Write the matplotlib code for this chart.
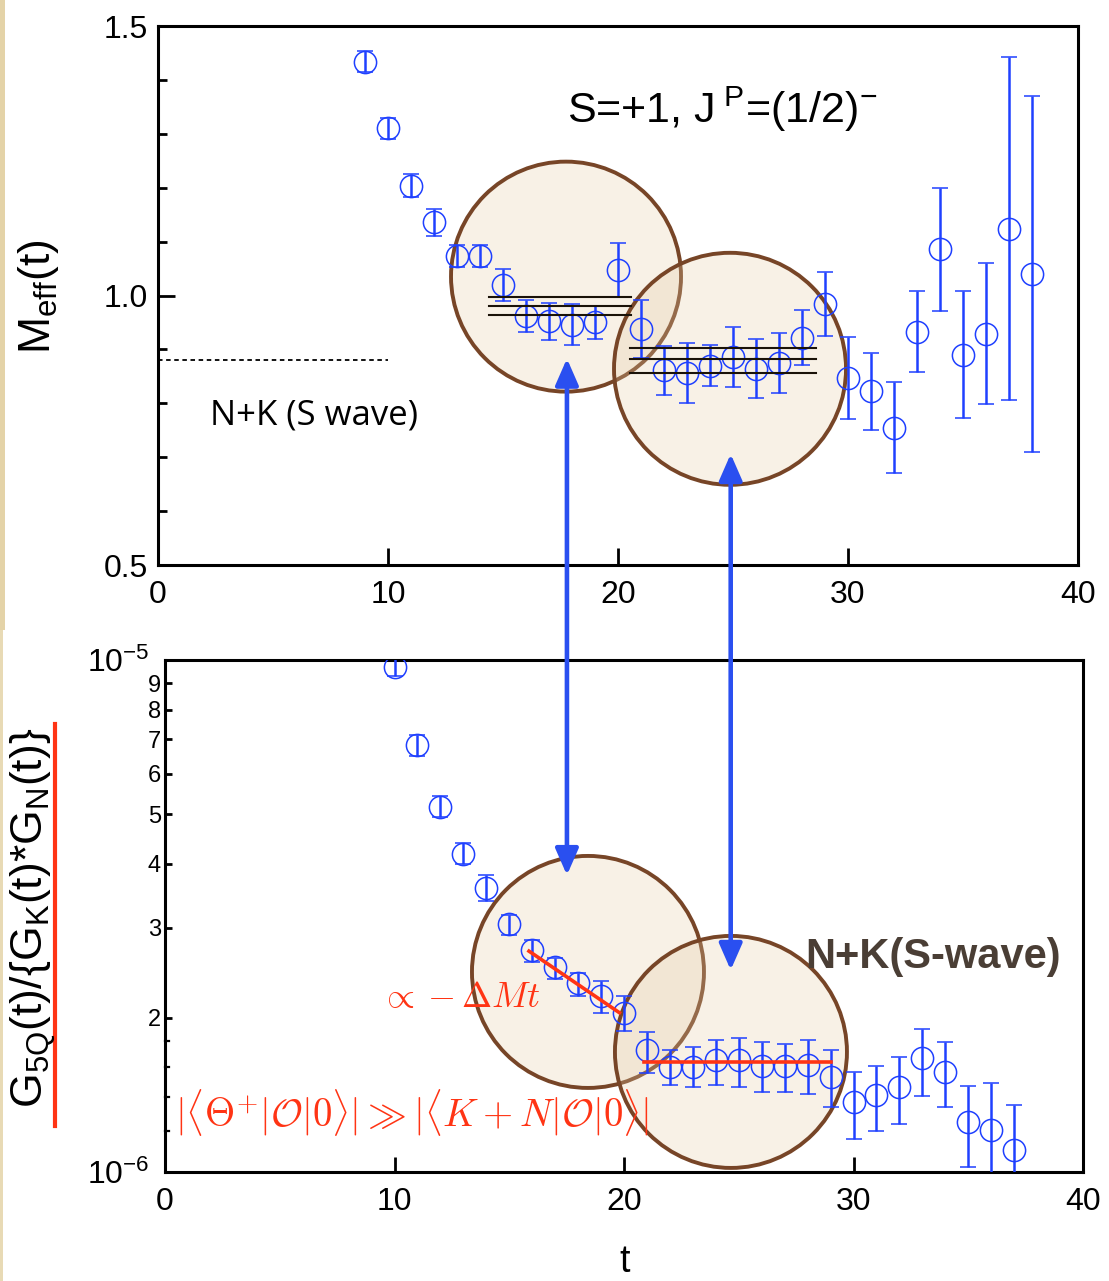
import numpy as np
import matplotlib.pyplot as plt
from matplotlib import transforms
from matplotlib.patches import Circle, ConnectionPatch, Rectangle
from matplotlib.lines import Line2D

plt.rcParams['font.family'] = ['Liberation Sans', 'DejaVu Sans']
plt.rcParams['mathtext.fontset'] = 'custom'
plt.rcParams['mathtext.rm'] = 'Liberation Sans'
plt.rcParams['mathtext.it'] = 'Liberation Sans:italic'
plt.rcParams['mathtext.bf'] = 'Liberation Sans:bold'

# effective mass M_eff(t)
t_meff = np.arange(9, 39)
meff = [1.434, 1.310, 1.204, 1.136, 1.073, 1.073, 1.020, 0.962, 0.952, 0.946,
        0.950, 1.047, 0.938, 0.861, 0.856, 0.870, 0.886, 0.864, 0.875, 0.922,
        0.984, 0.847, 0.822, 0.755, 0.933, 1.086, 0.890, 0.929, 1.124, 1.040]
meff_err = [0.019, 0.020, 0.022, 0.025, 0.021, 0.021, 0.030, 0.030, 0.034, 0.038,
            0.030, 0.050, 0.054, 0.046, 0.055, 0.038, 0.055, 0.055, 0.055, 0.051,
            0.059, 0.076, 0.072, 0.085, 0.075, 0.114, 0.118, 0.131, 0.318, 0.330]

# plateau fits (central value and band edges)
fit1_t = [14.4, 20.55]
fit1_vals = [0.997, 0.980, 0.963]
fit2_t = [20.5, 28.6]
fit2_vals = [0.903, 0.882, 0.857]

# N+K threshold
nk_t = [0, 10]
nk_mass = 0.881

# ratio G_5Q / (G_K * G_N), in units of 1e-6
t_ratio = np.arange(10, 38)
ratio = [9.70, 6.82, 5.17, 4.18, 3.58, 3.05, 2.71, 2.51, 2.34, 2.21,
         2.04, 1.73, 1.606, 1.606, 1.655, 1.655, 1.61, 1.61, 1.62, 1.535,
         1.372, 1.413, 1.467, 1.667, 1.57, 1.254, 1.208, 1.104]
ratio_hi = [10.05, 7.15, 5.43, 4.385, 3.80, 3.176, 2.84, 2.623, 2.45, 2.358,
            2.207, 1.875, 1.73, 1.757, 1.81, 1.83, 1.797, 1.778, 1.81, 1.73,
            1.565, 1.61, 1.675, 1.90, 1.797, 1.474, 1.49, 1.352]
ratio_lo = [9.30, 6.49, 4.93, 3.996, 3.388, 2.90, 2.575, 2.378, 2.207, 2.04,
            1.888, 1.558, 1.479, 1.468, 1.479, 1.468, 1.435, 1.435, 1.42, 1.342,
            1.158, 1.204, 1.241, 1.409, 1.342, 1.021, 0.97, 0.97]

# red guide lines on the ratio
slope_t = [15.86, 19.8]
slope_v = [2.70, 2.047]
flat_t = [20.87, 29.0]
flat_v = 1.643

blue = '#1f40ff'
arrow_blue = '#2a4ff0'
red = '#ff3414'
brown = '#774527'
fill = (230 / 255, 205 / 255, 166 / 255, 0.28)

W, H = 1109, 1281
fig = plt.figure(figsize=(W / 100, H / 100), dpi=100)

# parchment edge on the left
fig.add_artist(Rectangle((0, 1 - 630 / H), 5 / W, 630 / H, transform=fig.transFigure,
                         facecolor='#e4d3a8', edgecolor='none', zorder=-5))
fig.add_artist(Rectangle((0, 0), 3 / W, 1 - 630 / H, transform=fig.transFigure,
                         facecolor='#e8dab5', edgecolor='none', zorder=-5))

ax1 = fig.add_axes([158 / W, 1 - 565 / H, 920 / W, 539 / H])
ax2 = fig.add_axes([165 / W, 1 - 1172 / H, 918 / W, 512 / H])


def highlight(ax, t0, v0, r_px):
    tr = transforms.Affine2D().scale(r_px) + transforms.ScaledTranslation(t0, v0, ax.transData)
    ax.add_patch(Circle((0, 0), 1.0, transform=tr, facecolor=fill, edgecolor=brown,
                        lw=2.8, clip_on=False, zorder=1))


ebar = dict(fmt='o', mfc='none', mec=blue, ms=16, mew=1.1, ecolor=blue,
            elinewidth=1.8, capsize=5.5, capthick=1.8, zorder=3)

# --- upper panel: effective mass ---
highlight(ax1, 17.74, 1.035, 115)
highlight(ax1, 24.87, 0.864, 116)
ax1.errorbar(t_meff, meff, yerr=meff_err, **ebar)
for v in fit1_vals:
    ax1.plot(fit1_t, [v, v], color='#1a1208', lw=1.5, zorder=4)
for v in fit2_vals:
    ax1.plot(fit2_t, [v, v], color='#1a1208', lw=1.5, zorder=4)
ax1.plot(nk_t, [nk_mass, nk_mass], color='black', lw=1.3, ls=(0, (2.5, 2)), zorder=2)

ax1.text(2.26, 0.760, 'N+K (S wave)', fontsize=25, family=['Open Sans', 'DejaVu Sans'],
         ha='left', va='baseline')
ax1.text(17.8, 1.32, r'S=+1, J$^{\ \mathregular{P}}$=(1/2)$^{\mathregular{-}}$',
         fontsize=31, ha='left', va='baseline')

ax1.set_xlim(0, 40)
ax1.set_ylim(0.5, 1.5)
ax1.set_xticks([0, 10, 20, 30, 40])
ax1.set_yticks([0.5, 1.0, 1.5])
ax1.set_yticklabels(['0.5', '1.0', '1.5'])
ax1.set_yticks(np.arange(0.6, 1.5, 0.1), minor=True)
ax1.tick_params(which='both', direction='in', width=2.0, labelsize=23)
ax1.tick_params(which='major', length=12)
ax1.tick_params(which='minor', length=6.5)
ax1.tick_params(axis='x', pad=11)
ax1.tick_params(axis='y', pad=7)
for s in ax1.spines.values():
    s.set_linewidth(2.2)

# --- lower panel: correlator ratio ---
scale = 1e-6
r = np.array(ratio) * scale
r_err = [r - np.array(ratio_lo) * scale, np.array(ratio_hi) * scale - r]
highlight(ax2, 18.43, 2.459e-6, 116)
highlight(ax2, 24.66, 1.716e-6, 116)
ax2.errorbar(t_ratio, r, yerr=r_err, **ebar)
ax2.plot(slope_t, np.array(slope_v) * scale, color=red, lw=2.6, zorder=5)
ax2.plot(flat_t, [flat_v * scale] * 2, color=red, lw=2.6, zorder=5)

ax2.text(9.37, 2.19e-6, r'$\propto -\Delta M t$', color=red, fontsize=26,
         math_fontfamily='cm', ha='left', va='center', zorder=6)
ax2.text(0.44, 1.304e-6,
         r'$|\langle\Theta^{+}|\mathcal{O}|0\rangle| \gg |\langle K+N|\mathcal{O}|0\rangle|$',
         color=red, fontsize=28, math_fontfamily='cm', ha='left', va='center', zorder=6)
ax2.text(27.9, 2.5e-6, 'N+K(S-wave)', color='#4a3e35', fontsize=30,
         fontweight='bold', ha='left', va='baseline', zorder=6)

ax2.set_yscale('log')
ax2.set_xlim(0, 40)
ax2.set_ylim(1e-6, 1e-5)
ax2.set_xticks([0, 10, 20, 30, 40])
ax2.set_yticks([1e-6, 1e-5])
ax2.set_yticklabels([r'10$^{\mathregular{-6}}$', r'10$^{\mathregular{-5}}$'])
minor_vals = np.arange(2, 10) * scale
ax2.set_yticks(minor_vals, minor=True)
ax2.set_yticklabels([str(k) for k in range(2, 10)], minor=True)
ax2.tick_params(which='both', direction='in', width=2.0)
ax2.tick_params(which='major', length=11, labelsize=23)
ax2.tick_params(axis='x', pad=11)
ax2.tick_params(axis='y', which='major', pad=11)
ax2.tick_params(axis='y', which='minor', length=5, labelsize=17, pad=3)
for s in ax2.spines.values():
    s.set_linewidth(2.2)

# small unlabelled ticks between 1 and 2
small = transforms.blended_transform_factory(ax2.transAxes, ax2.transData)
for k in [1.2, 1.4, 1.6, 1.8]:
    ax2.plot([0, 0.004], [k * scale] * 2, color='black', lw=1.6, transform=small,
             clip_on=False, zorder=5)

# arrows linking the two panels
link = transforms.blended_transform_factory(ax1.transData, ax2.transData)
for t_arr, v_top, v_bot in [(17.78, 0.883, 3.8e-6), (24.9, 0.706, 2.48e-6)]:
    fig.add_artist(ConnectionPatch(xyA=(t_arr, v_top), coordsA=ax1.transData,
                                   xyB=(t_arr, v_bot), coordsB=link,
                                   arrowstyle='<|-|>,head_length=0.8,head_width=0.35',
                                   mutation_scale=20, color=arrow_blue, lw=3.3,
                                   shrinkA=0, shrinkB=0, zorder=10))

# axis labels
fig.text(38.5 / W, 1 - 297 / H, r'M$_{\mathregular{eff}}$(t)', fontsize=32,
         rotation=90, ha='center', va='center')
fig.text(33 / W, 1 - 918 / H, r'G$_{\mathregular{5Q}}$(t)/{G$_{\mathregular{K}}$(t)*G$_{\mathregular{N}}$(t)}',
         fontsize=32, rotation=90, ha='center', va='center')
fig.add_artist(Line2D([55 / W, 55 / W], [1 - 724 / H, 1 - 1126 / H], transform=fig.transFigure,
                      color=red, lw=3.0))
fig.text(625 / W, 1 - 1262 / H, 't', fontsize=27, ha='center', va='center')

fig.savefig('out.png', dpi=100)
